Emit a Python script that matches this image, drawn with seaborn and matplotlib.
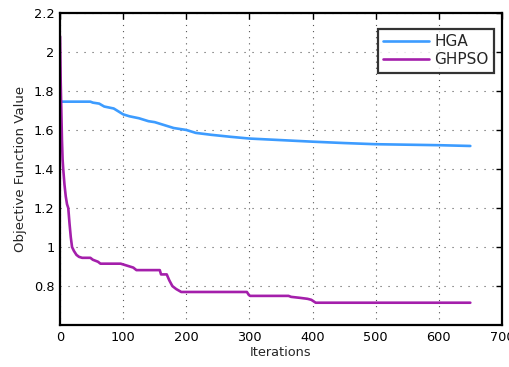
import matplotlib
matplotlib.use("Agg")
import matplotlib.pyplot as plt
import seaborn as sns
import pandas as pd

# Convergence history of both optimisers (iteration, objective value)
hga_iter = [0, 48, 52, 62, 70, 85, 95, 100, 110, 125, 140, 150, 165, 180, 200,
            215, 240, 270, 300, 350, 400, 450, 500, 600, 650]
hga_val = [1.745, 1.745, 1.74, 1.735, 1.72, 1.71, 1.69, 1.68, 1.67, 1.66, 1.645,
           1.64, 1.625, 1.61, 1.60, 1.585, 1.575, 1.565, 1.556, 1.548, 1.540,
           1.533, 1.527, 1.522, 1.518]

ghpso_iter = [0, 1, 2, 3, 4, 5, 7, 9, 11, 13, 15, 17, 19, 22, 26, 30, 35, 48, 52,
              60, 64, 96, 106, 116, 121, 158, 160, 169, 173, 178, 184, 192, 296,
              299, 301, 362, 366, 380, 392, 398, 405, 650]
ghpso_val = [2.08, 1.85, 1.70, 1.55, 1.45, 1.40, 1.32, 1.26, 1.22, 1.20, 1.12,
             1.05, 1.00, 0.98, 0.96, 0.95, 0.945, 0.945, 0.935, 0.925, 0.915,
             0.915, 0.905, 0.895, 0.882, 0.882, 0.86, 0.86, 0.83, 0.80, 0.785,
             0.77, 0.77, 0.755, 0.75, 0.75, 0.745, 0.74, 0.735, 0.73, 0.715, 0.715]

x_ticks = [0, 100, 200, 300, 400, 500, 600, 700]
y_ticks = [0.8, 1.0, 1.2, 1.4, 1.6, 1.8, 2.0, 2.2]
y_labels = ["0.8", "1", "1.2", "1.4", "1.6", "1.8", "2", "2.2"]

sns.set_style("white")
plt.rcParams["font.family"] = ["DejaVu Sans"]

df = pd.concat([
    pd.DataFrame({"Iterations": hga_iter, "value": hga_val, "method": "HGA"}),
    pd.DataFrame({"Iterations": ghpso_iter, "value": ghpso_val, "method": "GHPSO"}),
])

fig = plt.figure(figsize=(5.09, 3.67), dpi=100)
ax = fig.add_axes([0.118, 0.114, 0.868, 0.851])

sns.lineplot(data=df, x="Iterations", y="value", hue="method", sort=False,
             palette={"HGA": "#3d9cff", "GHPSO": "#a41fab"}, linewidth=1.9,
             estimator=None, ax=ax)

ax.set_xlim(0, 700)
ax.set_ylim(0.6, 2.2)
ax.set_xticks(x_ticks)
ax.set_yticks(y_ticks)
ax.set_yticklabels(y_labels)
ax.tick_params(direction="in", length=4, width=1.0, top=True, right=True,
               labelsize=9.3, colors="black", pad=4)
ax.xaxis.grid(True, linestyle=(0, (1, 4.5)), color="#555555", linewidth=0.8)
ax.yaxis.grid(True, linestyle=(0, (1, 6.2)), color="#555555", linewidth=0.8)
for s in ax.spines.values():
    s.set_color("black")
    s.set_linewidth(1.6)

ax.set_xlabel("Iterations", fontsize=9.3, labelpad=2)
ax.set_ylabel("Objective Function Value", fontsize=9.6, labelpad=5)

leg = ax.legend(loc="upper right", bbox_to_anchor=(0.982, 0.949),
                borderaxespad=0, fontsize=11, frameon=True, fancybox=False,
                edgecolor="black", handlelength=3.0, handletextpad=0.35,
                borderpad=0.35, labelspacing=0.2)
leg.get_frame().set_linewidth(1.6)
leg.set_title(None)

fig.savefig("out.png", dpi=100)
